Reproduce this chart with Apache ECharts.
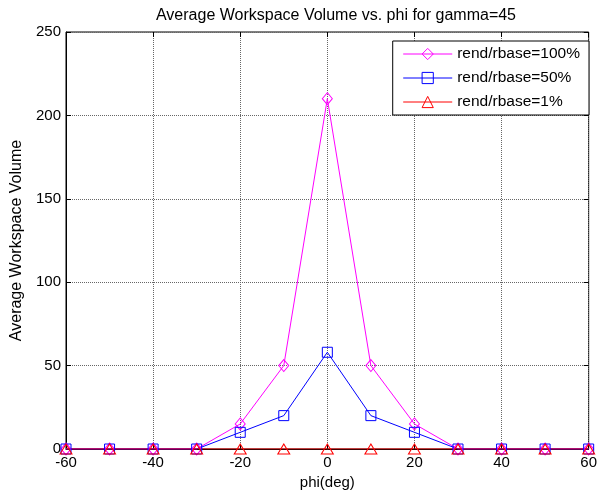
<!DOCTYPE html>
<html>
<head>
<meta charset="utf-8">
<script src="https://cdn.jsdelivr.net/npm/echarts@6/dist/echarts.min.js"></script>
<style>
  html, body { margin: 0; padding: 0; background: #fff; }
  #chart { width: 600px; height: 495px; }
</style>
</head>
<body>
<div id="chart"></div>
<script>
// phi angles (deg) and average workspace volume per end/base radius ratio
const phi = [-60, -50, -40, -30, -20, -10, 0, 10, 20, 30, 40, 50, 60];
const vol100 = [0, 0, 0, 0, 15, 50, 210, 50, 15, 0, 0, 0, 0];
const vol50 = [0, 0, 0, 0, 10, 20, 58, 20, 10, 0, 0, 0, 0];
const vol1 = [0, 0, 0, 0, 0, 0, 0, 0, 0, 0, 0, 0, 0];
const seriesNames = ['rend/rbase=100%', 'rend/rbase=50%', 'rend/rbase=1%'];
const seriesColors = ['#ff00ff', '#0000ff', '#ff0000'];

const FONT = 'Liberation Sans, Arial, sans-serif';
const CLEAR = 'rgba(255,255,255,0)';
const pairs = vals => phi.map((p, i) => [p, vals[i]]);

function lineSeries(name, vals, color, symbol, size) {
  return {
    name: name,
    type: 'line',
    data: pairs(vals),
    symbol: symbol,
    symbolSize: size,
    showAllSymbol: true,
    lineStyle: { color: color, width: 1 },
    itemStyle: { color: CLEAR, borderColor: color, borderWidth: 1 },
    emphasis: { disabled: true },
    animation: false,
    z: 3
  };
}

const tickStyle = { show: true, inside: true, length: 5, lineStyle: { color: '#000' } };
const gridLine = { show: true, lineStyle: { color: '#666', type: [1, 1], width: 1 } };

const chart = echarts.init(document.getElementById('chart'), null, { renderer: 'canvas' });
chart.setOption({
  backgroundColor: '#fff',
  title: {
    text: 'Average Workspace Volume vs. phi for gamma=45',
    left: 331, top: 3, textAlign: 'center',
    textStyle: { fontFamily: FONT, fontSize: 16, fontWeight: 'normal', color: '#000' }
  },
  grid: {
    left: 66, right: 4, top: 32, bottom: 46,
    show: true, borderColor: '#000', borderWidth: 1, backgroundColor: '#fff'
  },
  legend: {
    orient: 'vertical',
    right: 11, top: 41,
    padding: [5, 9, 5, 10],
    itemGap: 8,
    itemWidth: 49,
    itemHeight: 14,
    backgroundColor: '#fff',
    borderColor: '#000',
    borderWidth: 1,
    lineStyle: { width: 1 },
    textStyle: { fontFamily: FONT, fontSize: 15.5, color: '#000', padding: [0, 0, 0, 0] },
    data: seriesNames.map((n, i) => ({
      name: n,
      itemStyle: { color: CLEAR, borderColor: seriesColors[i], borderWidth: 1 }
    }))
  },
  xAxis: [{
    type: 'value', min: -60, max: 60, interval: 20,
    name: 'phi(deg)', nameLocation: 'middle', nameGap: 22,
    nameTextStyle: { fontFamily: FONT, fontSize: 15, color: '#000' },
    axisLine: { show: true, onZero: false, lineStyle: { color: '#000' } },
    axisTick: tickStyle,
    axisLabel: { fontFamily: FONT, fontSize: 15, color: '#000', margin: 6 },
    splitLine: gridLine
  }, {
    type: 'value', min: -60, max: 60, interval: 20, position: 'top',
    axisLine: { show: false, onZero: false },
    axisTick: tickStyle,
    axisLabel: { show: false },
    splitLine: { show: false }
  }],
  yAxis: [{
    type: 'value', min: 0, max: 250, interval: 50,
    name: 'Average Workspace Volume', nameLocation: 'middle', nameGap: 40,
    nameTextStyle: { fontFamily: FONT, fontSize: 16, color: '#000' },
    axisLine: { show: true, onZero: false, lineStyle: { color: '#000' } },
    axisTick: tickStyle,
    axisLabel: { fontFamily: FONT, fontSize: 15, color: '#000', margin: 5 },
    splitLine: gridLine
  }, {
    type: 'value', min: 0, max: 250, interval: 50, position: 'right',
    axisLine: { show: false, onZero: false },
    axisTick: tickStyle,
    axisLabel: { show: false },
    splitLine: { show: false }
  }],
  series: [
    lineSeries(seriesNames[0], vol100, seriesColors[0], 'diamond', [10, 12]),
    lineSeries(seriesNames[1], vol50, seriesColors[1], 'rect', 10),
    lineSeries(seriesNames[2], vol1, seriesColors[2], 'triangle', [12, 10])
  ]
});
</script>
</body>
</html>
